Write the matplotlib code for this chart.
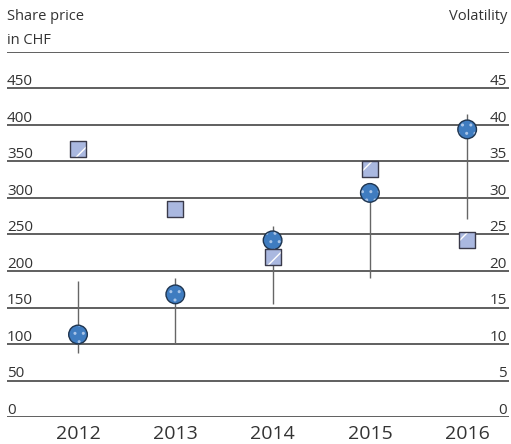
import matplotlib

matplotlib.use("Agg")
import matplotlib.pyplot as plt
import numpy as np

plt.rcParams.update({"font.family": ["Open Sans", "DejaVu Sans"], "hatch.linewidth": 1.0})

years = ["2012", "2013", "2014", "2015", "2016"]
price_close = [113, 168, 242, 307, 394]
price_high = [186, 191, 261, 307, 415]
price_low = [88, 100, 155, 190, 271]
volatility = [36.7, 28.5, 21.9, 34.0, 24.2]
left_ticks = [0, 50, 100, 150, 200, 250, 300, 350, 400, 450]
right_ticks = [0, 5, 10, 15, 20, 25, 30, 35, 40, 45]

TEXT = "#333333"
GRID = "#444444"
BLUE = "#3f7cc0"
LILAC = "#aab8e0"

fig = plt.figure(figsize=(5.11, 4.44), dpi=100)
ax = fig.add_axes([7 / 511, 27 / 444, 502 / 511, 365 / 444])
ax2 = ax.twinx()

x = np.arange(len(years))
ax.set_xlim(-0.73, 4.43)
ax.set_ylim(0, 500)
ax2.set_ylim(0, 50)

for v in left_ticks + [500]:
    ax.axhline(v, color=GRID, lw=1.2, zorder=1)
# tick labels sit just above their gridline
for v in left_ticks:
    ax.text(0.0, v + 4.5, str(v), transform=ax.get_yaxis_transform(),
            ha="left", va="baseline", fontsize=11, color=TEXT)
for v in right_ticks:
    ax2.text(0.996, v + 0.45, str(v), transform=ax2.get_yaxis_transform(),
             ha="right", va="baseline", fontsize=11, color=TEXT)

ax.vlines(x, price_low, price_high, color="#666666", lw=1.0, zorder=2)

# squares: fill + white diagonal hatch + dark edge
ax2.scatter(x, volatility, marker="s", s=130, facecolor=LILAC, edgecolor="none", zorder=3)
ax2.scatter(x, volatility, marker="s", s=130, facecolor="none", edgecolor="white",
            lw=0, hatch="/", zorder=3)
ax2.scatter(x, volatility, marker="s", s=130, facecolor="none", edgecolor="#3a3a4a",
            lw=1.0, zorder=3)

# circles: fill + light dots + dark edge
ax.scatter(x, price_close, marker="o", s=180, facecolor=BLUE, edgecolor="none", zorder=4)
ax.scatter(x, price_close, marker="o", s=180, facecolor="none", edgecolor="#a8c4e8",
           lw=0, hatch="..", zorder=4)
ax.scatter(x, price_close, marker="o", s=180, facecolor="none", edgecolor="#1f3550",
           lw=1.0, zorder=4)

for a in (ax, ax2):
    a.set_yticks([])
    for s in a.spines.values():
        s.set_visible(False)
ax.set_xticks(x, years)
ax.tick_params(axis="x", length=0, labelsize=14, labelcolor=TEXT, pad=6)

fig.text(7 / 511, 1 - 17 / 444, "Share price", ha="left", va="center",
         fontsize=10.5, color=TEXT)
fig.text(7 / 511, 1 - 40 / 444, "in CHF", ha="left", va="center",
         fontsize=10.5, color=TEXT)
fig.text(507 / 511, 1 - 17 / 444, "Volatility", ha="right", va="center",
         fontsize=10.5, color=TEXT)

fig.savefig("out.png", dpi=100)
